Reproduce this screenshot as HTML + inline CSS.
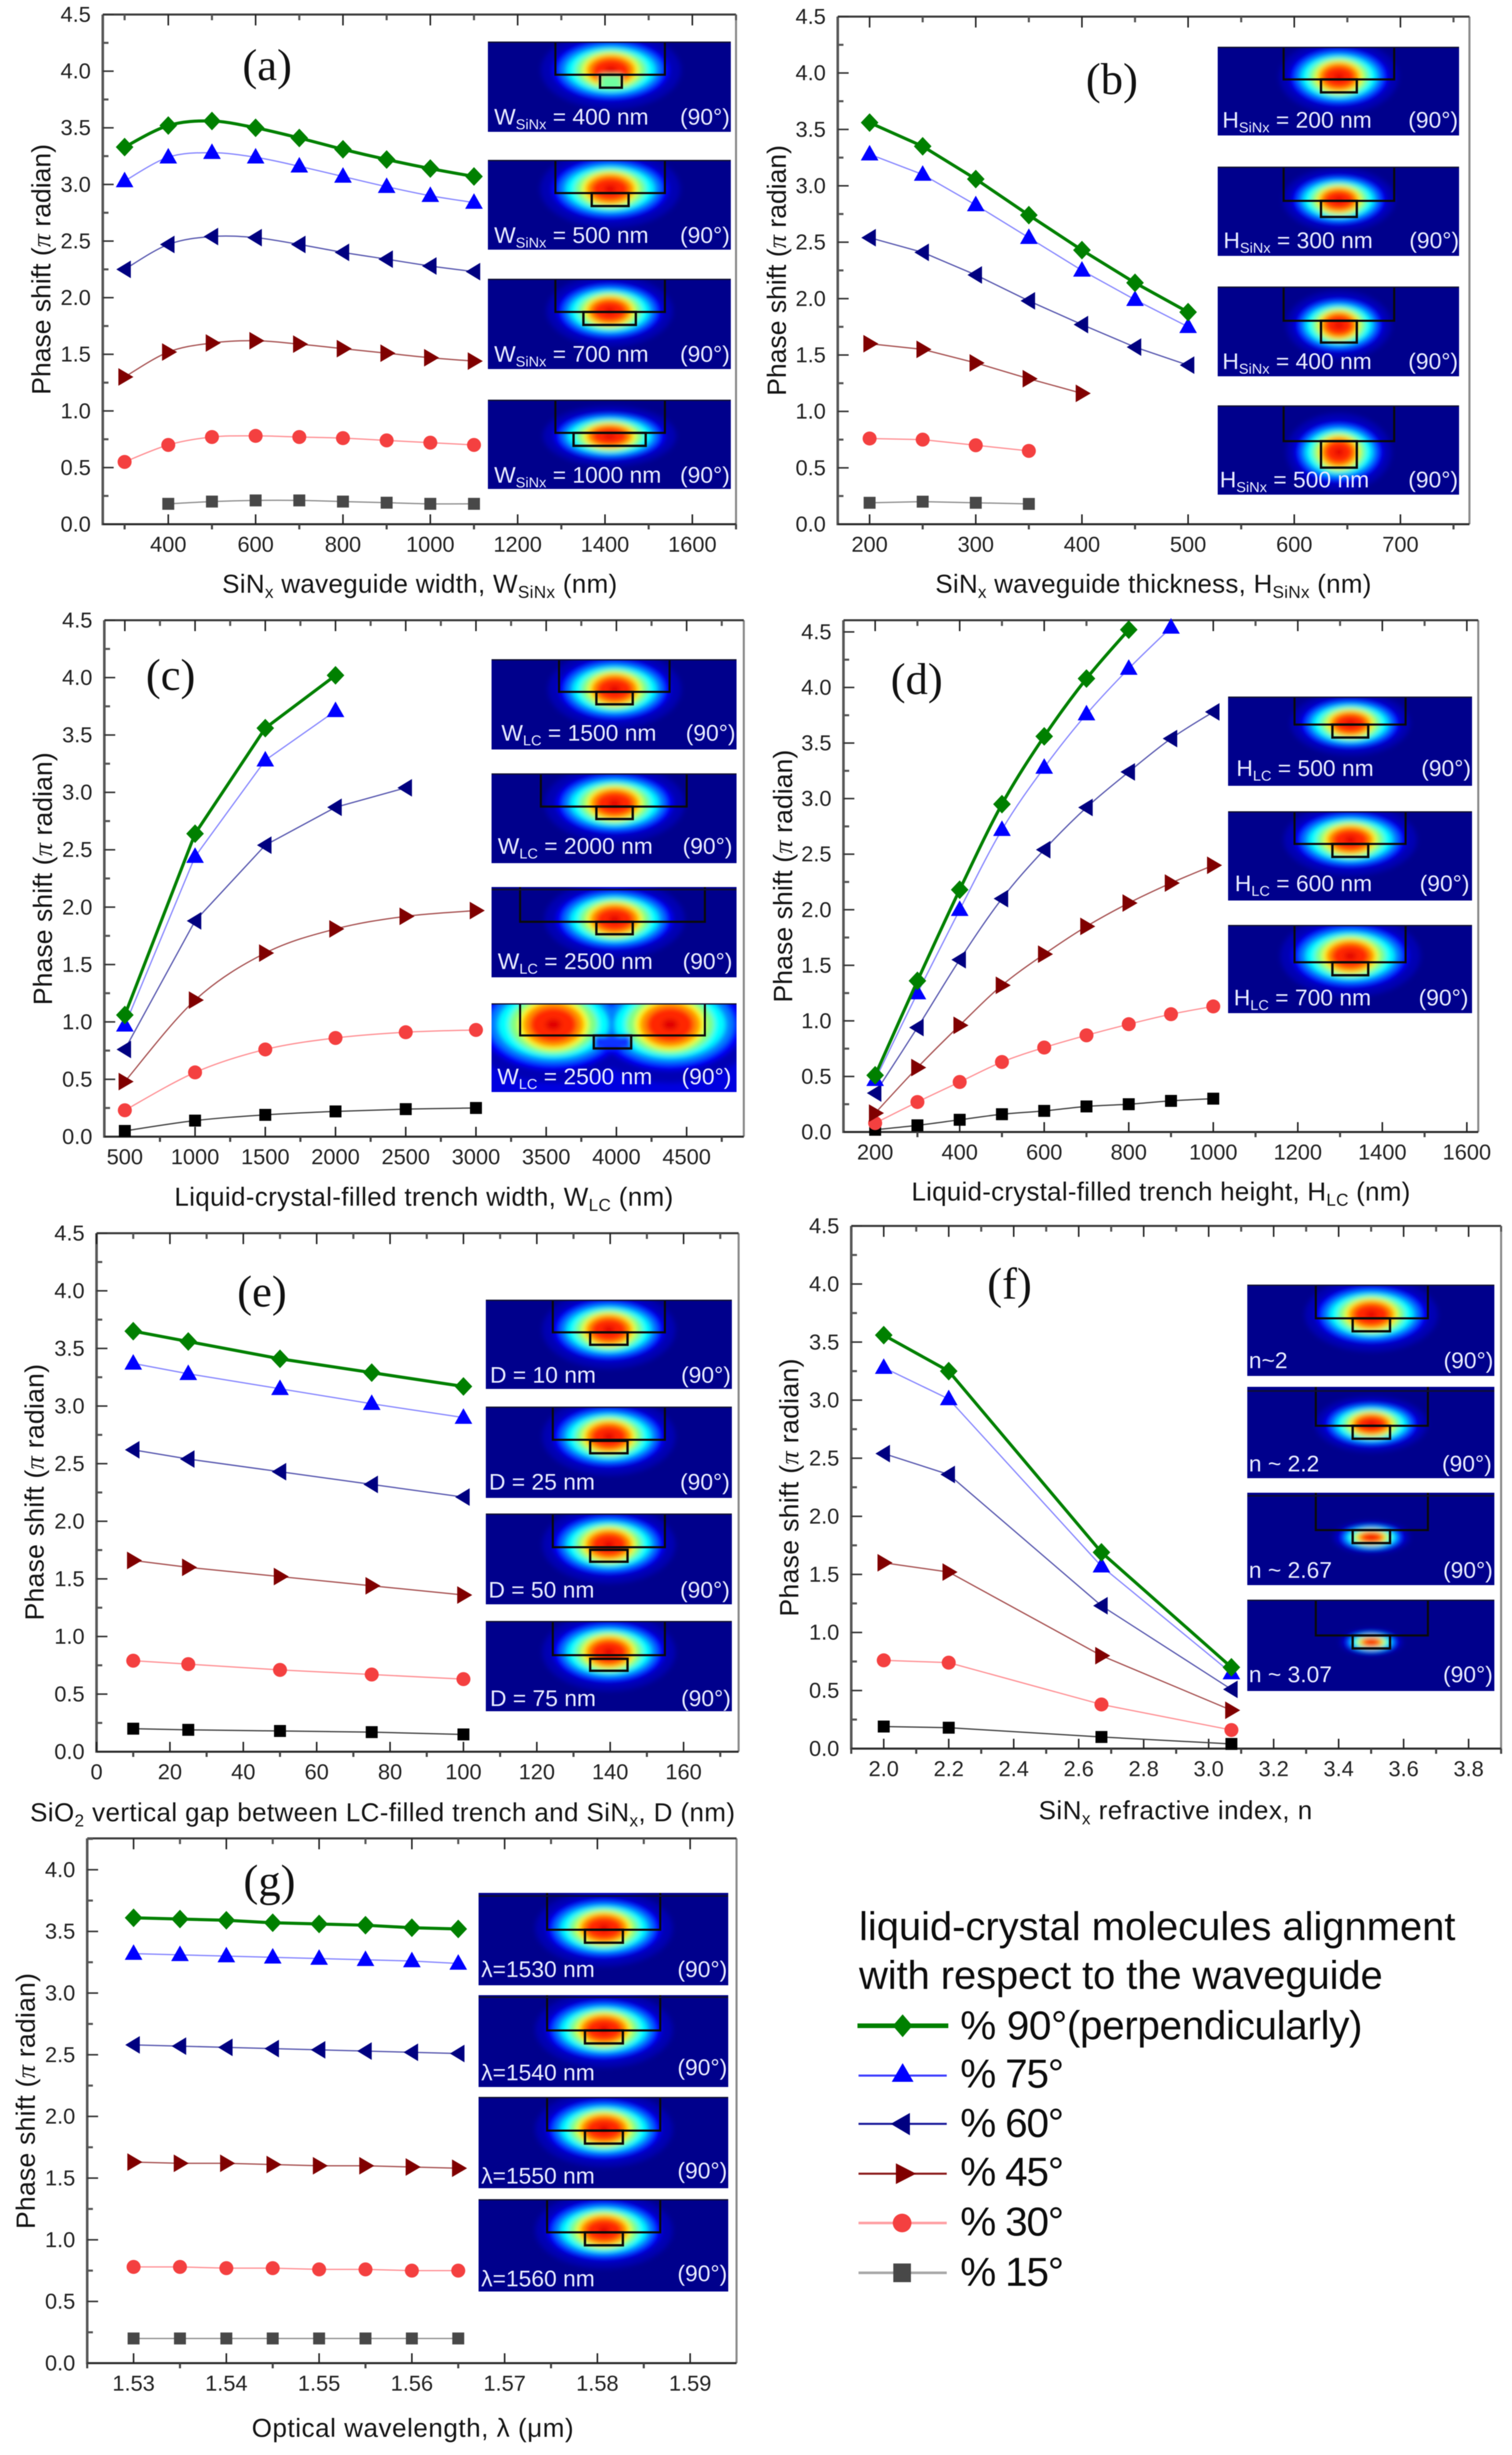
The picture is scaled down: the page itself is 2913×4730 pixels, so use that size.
<!DOCTYPE html>
<html lang="en">
<head>
<meta charset="utf-8">
<title>Phase shift versus design parameters</title>
<style>
html,body{margin:0;padding:0;background:#fff;width:2913px;height:4730px;overflow:hidden}
#figure{display:block;filter:blur(0.7px)}
text{font-family:"Liberation Sans",sans-serif}
.tick{font-size:42px;fill:#222}
.at{font-size:50px;fill:#141414}
.at tspan.s{font-size:33px}
.yt{font-size:51px;fill:#141414;text-anchor:middle}
.yt tspan{font-family:"Liberation Serif",serif;font-style:italic}
.pl{font-family:"Liberation Serif",serif;font-size:86px;fill:#111}
.il{font-size:44px;fill:#e8ebff}
.il tspan.s{font-size:28px}
.lg{font-size:77px;fill:#0c0c0c}
.le{font-size:78px;fill:#0c0c0c}
</style>
</head>
<body>
<svg id="figure" xmlns="http://www.w3.org/2000/svg" width="2913" height="4730" viewBox="0 0 2913 4730">
<defs>
<filter id="soft" x="-30%" y="-30%" width="160%" height="160%"><feGaussianBlur stdDeviation="5"/></filter>
</defs>
<rect width="2913" height="4730" fill="#fff"/>
<g id="axes"></g>
<g id="marks"></g>
<g id="fields"></g>

<g>
<text class="pl" x="467" y="154">(a)</text>
<text class="pl" x="2092" y="181">(b)</text>
<text class="pl" x="281" y="1329">(c)</text>
<text class="pl" x="1716" y="1337">(d)</text>
<text class="pl" x="457" y="2517">(e)</text>
<text class="pl" x="1902" y="2502">(f)</text>
<text class="pl" x="469" y="3652">(g)</text>
</g>

<g>
<text class="at" x="428" y="1142" textLength="761">SiN<tspan class="s" dy="10">x</tspan><tspan dy="-10"> waveguide width, W</tspan><tspan class="s" dy="10">SiNx</tspan><tspan dy="-10"> (nm)</tspan></text>
<text class="at" x="1802" y="1142" textLength="840">SiN<tspan class="s" dy="10">x</tspan><tspan dy="-10"> waveguide thickness, H</tspan><tspan class="s" dy="10">SiNx</tspan><tspan dy="-10"> (nm)</tspan></text>
<text class="at" x="336" y="2323" textLength="961">Liquid-crystal-filled trench width, W<tspan class="s" dy="10">LC</tspan><tspan dy="-10"> (nm)</tspan></text>
<text class="at" x="1756" y="2313" textLength="961">Liquid-crystal-filled trench height, H<tspan class="s" dy="10">LC</tspan><tspan dy="-10"> (nm)</tspan></text>
<text class="at" x="58" y="3509" textLength="1358">SiO<tspan class="s" dy="10">2</tspan><tspan dy="-10"> vertical gap between LC-filled trench and SiN</tspan><tspan class="s" dy="10">x</tspan><tspan dy="-10">, D (nm)</tspan></text>
<text class="at" x="2001" y="3505" textLength="527">SiN<tspan class="s" dy="10">x</tspan><tspan dy="-10"> refractive index, n</tspan></text>
<text class="at" x="485" y="4695" textLength="620">Optical wavelength, λ (μm)</text>
</g>

<g>
<text class="yt" transform="translate(97,519) rotate(-90)" textLength="483">Phase shift (<tspan>π</tspan> radian)</text>
<text class="yt" transform="translate(1514,521) rotate(-90)" textLength="483">Phase shift (<tspan>π</tspan> radian)</text>
<text class="yt" transform="translate(100,1693) rotate(-90)" textLength="487">Phase shift (<tspan>π</tspan> radian)</text>
<text class="yt" transform="translate(1526,1688) rotate(-90)" textLength="487">Phase shift (<tspan>π</tspan> radian)</text>
<text class="yt" transform="translate(84,2875) rotate(-90)" textLength="494">Phase shift (<tspan>π</tspan> radian)</text>
<text class="yt" transform="translate(1538,2866) rotate(-90)" textLength="497">Phase shift (<tspan>π</tspan> radian)</text>
<text class="yt" transform="translate(67,4048) rotate(-90)" textLength="493">Phase shift (<tspan>π</tspan> radian)</text>
</g>

<g>
<g>
<text class="il" x="952" y="240">W<tspan class="s" dy="9">SiNx</tspan><tspan dy="-9"> = 400 nm</tspan></text><text class="il" x="1406" y="240" text-anchor="end">(90°)</text>
<text class="il" x="952" y="468">W<tspan class="s" dy="9">SiNx</tspan><tspan dy="-9"> = 500 nm</tspan></text><text class="il" x="1406" y="468" text-anchor="end">(90°)</text>
<text class="il" x="952" y="697">W<tspan class="s" dy="9">SiNx</tspan><tspan dy="-9"> = 700 nm</tspan></text><text class="il" x="1406" y="697" text-anchor="end">(90°)</text>
<text class="il" x="952" y="930">W<tspan class="s" dy="9">SiNx</tspan><tspan dy="-9"> = 1000 nm</tspan></text><text class="il" x="1406" y="930" text-anchor="end">(90°)</text>
</g>
<g>
<text class="il" x="2355" y="246">H<tspan class="s" dy="9">SiNx</tspan><tspan dy="-9"> = 200 nm</tspan></text><text class="il" x="2809" y="246" text-anchor="end">(90°)</text>
<text class="il" x="2357" y="478">H<tspan class="s" dy="9">SiNx</tspan><tspan dy="-9"> = 300 nm</tspan></text><text class="il" x="2811" y="478" text-anchor="end">(90°)</text>
<text class="il" x="2355" y="711">H<tspan class="s" dy="9">SiNx</tspan><tspan dy="-9"> = 400 nm</tspan></text><text class="il" x="2809" y="711" text-anchor="end">(90°)</text>
<text class="il" x="2350" y="939">H<tspan class="s" dy="9">SiNx</tspan><tspan dy="-9"> = 500 nm</tspan></text><text class="il" x="2809" y="939" text-anchor="end">(90°)</text>
</g>
<g>
<text class="il" x="966" y="1427">W<tspan class="s" dy="9">LC</tspan><tspan dy="-9"> = 1500 nm</tspan></text><text class="il" x="1417" y="1427" text-anchor="end">(90°)</text>
<text class="il" x="959" y="1645">W<tspan class="s" dy="9">LC</tspan><tspan dy="-9"> = 2000 nm</tspan></text><text class="il" x="1411" y="1645" text-anchor="end">(90°)</text>
<text class="il" x="959" y="1867">W<tspan class="s" dy="9">LC</tspan><tspan dy="-9"> = 2500 nm</tspan></text><text class="il" x="1411" y="1867" text-anchor="end">(90°)</text>
<text class="il" x="958" y="2089">W<tspan class="s" dy="9">LC</tspan><tspan dy="-9"> = 2500 nm</tspan></text><text class="il" x="1409" y="2089" text-anchor="end">(90°)</text>
</g>
<g>
<text class="il" x="2382" y="1495">H<tspan class="s" dy="9">LC</tspan><tspan dy="-9"> = 500 nm</tspan></text><text class="il" x="2834" y="1495" text-anchor="end">(90°)</text>
<text class="il" x="2379" y="1717">H<tspan class="s" dy="9">LC</tspan><tspan dy="-9"> = 600 nm</tspan></text><text class="il" x="2831" y="1717" text-anchor="end">(90°)</text>
<text class="il" x="2377" y="1937">H<tspan class="s" dy="9">LC</tspan><tspan dy="-9"> = 700 nm</tspan></text><text class="il" x="2829" y="1937" text-anchor="end">(90°)</text>
</g>
<g>
<text class="il" x="944" y="2664">D = 10 nm</text><text class="il" x="1408" y="2664" text-anchor="end">(90°)</text>
<text class="il" x="942" y="2870">D = 25 nm</text><text class="il" x="1406" y="2870" text-anchor="end">(90°)</text>
<text class="il" x="941" y="3078">D = 50 nm</text><text class="il" x="1406" y="3078" text-anchor="end">(90°)</text>
<text class="il" x="944" y="3287">D = 75 nm</text><text class="il" x="1408" y="3287" text-anchor="end">(90°)</text>
</g>
<g>
<text class="il" x="2406" y="2636">n~2</text><text class="il" x="2877" y="2636" text-anchor="end">(90°)</text>
<text class="il" x="2406" y="2835">n ~ 2.2</text><text class="il" x="2874" y="2835" text-anchor="end">(90°)</text>
<text class="il" x="2406" y="3040">n ~ 2.67</text><text class="il" x="2876" y="3040" text-anchor="end">(90°)</text>
<text class="il" x="2406" y="3241">n ~ 3.07</text><text class="il" x="2876" y="3241" text-anchor="end">(90°)</text>
</g>
<g>
<text class="il" x="927" y="3809">λ=1530 nm</text><text class="il" x="1401" y="3809" text-anchor="end">(90°)</text>
<text class="il" x="927" y="4008">λ=1540 nm</text><text class="il" x="1401" y="3998" text-anchor="end">(90°)</text>
<text class="il" x="927" y="4207">λ=1550 nm</text><text class="il" x="1401" y="4197" text-anchor="end">(90°)</text>
<text class="il" x="927" y="4405">λ=1560 nm</text><text class="il" x="1401" y="4395" text-anchor="end">(90°)</text>
</g>
</g>

<g>
<text class="lg" x="1655" y="3738" textLength="1149">liquid-crystal molecules alignment</text>
<text class="lg" x="1655" y="3832" textLength="1009">with respect to the waveguide</text>
<g>
<line x1="1652" x2="1827" y1="3903" y2="3903" stroke="#008000" stroke-width="9"/>
<polygon points="1739,3881 1758,3903 1739,3925 1720,3903" fill="#008000"/>
<text class="le" x="1850" y="3929" textLength="775">% 90°(perpendicularly)</text>
</g>
<g>
<line x1="1654" x2="1824" y1="3999" y2="3999" stroke="#3c3cff" stroke-width="4"/>
<polygon points="1739,3975 1760,4011 1718,4011" fill="#0000ff"/>
<text class="le" x="1850" y="4022" textLength="200">% 75°</text>
</g>
<g>
<line x1="1654" x2="1824" y1="4092" y2="4092" stroke="#1c1c9c" stroke-width="4"/>
<polygon points="1716,4092 1753,4071 1753,4114" fill="#000080"/>
<text class="le" x="1850" y="4117" textLength="200">% 60°</text>
</g>
<g>
<line x1="1654" x2="1824" y1="4188" y2="4188" stroke="#8c1c1c" stroke-width="4"/>
<polygon points="1765,4188 1726,4168 1726,4208" fill="#800000"/>
<text class="le" x="1850" y="4211" textLength="200">% 45°</text>
</g>
<g>
<line x1="1654" x2="1824" y1="4283" y2="4283" stroke="#ffa0a4" stroke-width="5"/>
<circle cx="1738" cy="4283" r="18" fill="#f44040"/>
<text class="le" x="1850" y="4307" textLength="200">% 30°</text>
</g>
<g>
<line x1="1654" x2="1824" y1="4379" y2="4379" stroke="#a8a8a8" stroke-width="5"/>
<rect x="1721" y="4361" width="34" height="36" fill="#484848"/>
<text class="le" x="1850" y="4404" textLength="200">% 15°</text>
</g>
</g>
</svg>

<script>
// ---- Shared axis data ----
const phaseTicks = [0, 0.5, 1, 1.5, 2, 2.5, 3, 3.5, 4, 4.5];
const phaseTicksG = [0, 0.5, 1, 1.5, 2, 2.5, 3, 3.5, 4];
const phaseTickLabels = ['0.0', '0.5', '1.0', '1.5', '2.0', '2.5', '3.0', '3.5', '4.0', '4.5'];

// ---- Panel (a) SiNx waveguide width ----
const aX = [300, 400, 500, 600, 700, 800, 900, 1000, 1100];
const a90 = [3.33, 3.52, 3.56, 3.50, 3.41, 3.31, 3.22, 3.14, 3.07];
const a75 = [3.03, 3.24, 3.28, 3.24, 3.16, 3.07, 2.98, 2.90, 2.84];
const a60 = [2.25, 2.47, 2.54, 2.53, 2.47, 2.40, 2.34, 2.28, 2.23];
const a45 = [1.30, 1.52, 1.60, 1.62, 1.59, 1.55, 1.51, 1.47, 1.44];
const a30 = [0.55, 0.70, 0.77, 0.78, 0.77, 0.76, 0.74, 0.72, 0.70];
const a15 = [null, 0.18, 0.20, 0.21, 0.21, 0.20, 0.19, 0.18, 0.18];
const aXTicks = [400, 600, 800, 1000, 1200, 1400, 1600];

// ---- Panel (b) SiNx waveguide thickness ----
const bX = [200, 250, 300, 350, 400, 450, 500];
const b90 = [3.56, 3.35, 3.06, 2.74, 2.43, 2.14, 1.88];
const b75 = [3.28, 3.10, 2.83, 2.54, 2.25, 1.99, 1.75];
const b60 = [2.54, 2.41, 2.21, 1.98, 1.77, 1.57, 1.41];
const b45 = [1.60, 1.55, 1.43, 1.29, 1.16, null, null];
const b30 = [0.76, 0.75, 0.70, 0.65, null, null, null];
const b15 = [0.19, 0.20, 0.19, 0.18, null, null, null];
const bXTicks = [200, 300, 400, 500, 600, 700];

// ---- Panel (c) trench width ----
const cX = [500, 1000, 1500, 2000, 2500, 3000];
const c90 = [1.06, 2.64, 3.56, 4.02, null, null];
const c75 = [0.97, 2.44, 3.28, 3.71, null, null];
const c60 = [0.76, 1.88, 2.54, 2.87, 3.04, null];
const c45 = [0.48, 1.19, 1.60, 1.81, 1.92, 1.97];
const c30 = [0.23, 0.56, 0.76, 0.86, 0.91, 0.93];
const c15 = [0.05, 0.14, 0.19, 0.22, 0.24, 0.25];
const cXTicks = [500, 1000, 1500, 2000, 2500, 3000, 3500, 4000, 4500];

// ---- Panel (d) trench height ----
const dX = [200, 300, 400, 500, 600, 700, 800, 900, 1000];
const d90 = [0.51, 1.36, 2.18, 2.95, 3.56, 4.08, 4.52, null, null];
const d75 = [0.47, 1.25, 2.00, 2.72, 3.28, 3.76, 4.17, 4.54, null];
const d60 = [0.35, 0.94, 1.55, 2.10, 2.54, 2.92, 3.24, 3.54, 3.78];
const d45 = [0.17, 0.58, 0.96, 1.32, 1.60, 1.85, 2.06, 2.24, 2.40];
const d30 = [0.08, 0.27, 0.45, 0.63, 0.76, 0.87, 0.97, 1.06, 1.13];
const d15 = [0.02, 0.06, 0.11, 0.16, 0.19, 0.23, 0.25, 0.28, 0.30];
const dXTicks = [200, 400, 600, 800, 1000, 1200, 1400, 1600];

// ---- Panel (e) vertical gap ----
const eX = [10, 25, 50, 75, 100];
const e90 = [3.65, 3.56, 3.41, 3.29, 3.17];
const e75 = [3.37, 3.28, 3.15, 3.02, 2.90];
const e60 = [2.62, 2.54, 2.43, 2.32, 2.21];
const e45 = [1.66, 1.60, 1.52, 1.44, 1.36];
const e30 = [0.79, 0.76, 0.71, 0.67, 0.63];
const e15 = [0.20, 0.19, 0.18, 0.17, 0.15];
const eXTicks = [0, 20, 40, 60, 80, 100, 120, 140, 160];

// ---- Panel (f) refractive index ----
const fX = [2.0, 2.2, 2.67, 3.07];
const f90 = [3.56, 3.25, 1.69, 0.70];
const f75 = [3.28, 3.01, 1.57, 0.65];
const f60 = [2.54, 2.36, 1.23, 0.51];
const f45 = [1.60, 1.52, 0.80, 0.33];
const f30 = [0.76, 0.74, 0.38, 0.16];
const f15 = [0.19, 0.18, 0.10, 0.04];
const fXTicks = [2.0, 2.2, 2.4, 2.6, 2.8, 3.0, 3.2, 3.4, 3.6, 3.8];

// ---- Panel (g) wavelength ----
const gX = [1.53, 1.535, 1.54, 1.545, 1.55, 1.555, 1.56, 1.565];
const g90 = [3.61, 3.60, 3.59, 3.57, 3.56, 3.55, 3.53, 3.52];
const g75 = [3.32, 3.31, 3.30, 3.29, 3.28, 3.27, 3.26, 3.24];
const g60 = [2.58, 2.57, 2.56, 2.55, 2.54, 2.53, 2.52, 2.51];
const g45 = [1.63, 1.62, 1.62, 1.61, 1.60, 1.60, 1.59, 1.58];
const g30 = [0.78, 0.78, 0.77, 0.77, 0.76, 0.76, 0.75, 0.75];
const g15 = [0.20, 0.20, 0.20, 0.20, 0.20, 0.20, 0.20, 0.20];
const gXTicks = [1.53, 1.54, 1.55, 1.56, 1.57, 1.58, 1.59];

// ---- Layout of each panel: frame box + axis ranges ----
// smoothCount = how many of the series (starting from 15 deg) use a spline instead of straight segments
const panelConfigs = [
  {id:'a', left:198, right:1418, top:28, bottom:1010, xMin:250, xMax:1700, yMax:4.5, minorStep:100, dec:0, smoothCount:6, dark:false, x:aX, xTicks:aXTicks, yTicks:phaseTicks, s:[a15,a30,a45,a60,a75,a90]},
  {id:'b', left:1614, right:2831, top:32, bottom:1010, xMin:170, xMax:765, yMax:4.5, minorStep:50, dec:0, smoothCount:0, dark:false, x:bX, xTicks:bXTicks, yTicks:phaseTicks, s:[b15,b30,b45,b60,b75,b90]},
  {id:'c', left:201, right:1433, top:1195, bottom:2190, xMin:354, xMax:4907, yMax:4.5, minorStep:250, dec:0, smoothCount:3, dark:true, x:cX, xTicks:cXTicks, yTicks:phaseTicks, s:[c15,c30,c45,c60,c75,c90]},
  {id:'d', left:1625, right:2848, top:1195, bottom:2181, xMin:125, xMax:1627, yMax:4.605, minorStep:100, dec:0, smoothCount:6, dark:true, x:dX, xTicks:dXTicks, yTicks:phaseTicks, s:[d15,d30,d45,d60,d75,d90]},
  {id:'e', left:186, right:1423, top:2376, bottom:3375, xMin:0, xMax:175, yMax:4.5, minorStep:10, dec:0, smoothCount:0, dark:true, x:eX, xTicks:eXTicks, yTicks:phaseTicks, s:[e15,e30,e45,e60,e75,e90]},
  {id:'f', left:1640, right:2892, top:2362, bottom:3369, xMin:1.9, xMax:3.9, yMax:4.5, minorStep:0.1, dec:1, smoothCount:0, dark:true, x:fX, xTicks:fXTicks, yTicks:phaseTicks, s:[f15,f30,f45,f60,f75,f90]},
  {id:'g', left:168, right:1419, top:3542, bottom:4553, xMin:1.525, xMax:1.595, yMax:4.254, minorStep:0.005, dec:2, smoothCount:0, dark:false, x:gX, xTicks:gXTicks, yTicks:phaseTicksG, s:[g15,g30,g45,g60,g75,g90]}
];

const seriesLook = [
  {name:'15deg', fill:'#484848', line:'#909090', width:2.5, marker:'square'},
  {name:'30deg', fill:'#f44040', line:'#ff9296', width:2.5, marker:'circle'},
  {name:'45deg', fill:'#800000', line:'#a85454', width:2.5, marker:'right'},
  {name:'60deg', fill:'#000080', line:'#5a5ab0', width:2.5, marker:'left'},
  {name:'75deg', fill:'#0000ff', line:'#8888ff', width:2.5, marker:'up'},
  {name:'90deg', fill:'#008000', line:'#008000', width:6, marker:'diamond'}
];

const NS = 'http://www.w3.org/2000/svg';
function make(parent, tag, attrs) {
  const node = document.createElementNS(NS, tag);
  for (const k in attrs) node.setAttribute(k, attrs[k]);
  parent.appendChild(node);
  return node;
}

function drawMarker(parent, kind, x, y, color, seriesName) {
  let m;
  if (kind === 'diamond') m = make(parent, 'polygon', {points:[x,y-18,x+17,y,x,y+18,x-17,y].join(' '), fill:color});
  else if (kind === 'up') m = make(parent, 'polygon', {points:[x,y-18,x+17,y+12,x-17,y+12].join(' '), fill:color});
  else if (kind === 'left') m = make(parent, 'polygon', {points:[x-16,y,x+12,y-17,x+12,y+17].join(' '), fill:color});
  else if (kind === 'right') m = make(parent, 'polygon', {points:[x+17,y,x-12,y-17,x-12,y+17].join(' '), fill:color});
  else if (kind === 'circle') m = make(parent, 'circle', {cx:x, cy:y, r:13.5, fill:color});
  else m = make(parent, 'rect', {x:x-11.5, y:y-11.5, width:23, height:23, fill:color});
  
  
}

function linePath(pts, smooth) {
  let d = 'M' + pts[0][0] + ' ' + pts[0][1];
  for (let i = 1; i < pts.length; i++) {
    if (!smooth) { d += 'L' + pts[i][0] + ' ' + pts[i][1]; continue; }
    const p0 = pts[Math.max(0, i - 2)], p1 = pts[i - 1], p2 = pts[i], p3 = pts[Math.min(pts.length - 1, i + 1)];
    d += 'C' + (p1[0] + (p2[0] - p0[0]) / 6) + ' ' + (p1[1] + (p2[1] - p0[1]) / 6) + ' ' +
         (p2[0] - (p3[0] - p1[0]) / 6) + ' ' + (p2[1] - (p3[1] - p1[1]) / 6) + ' ' + p2[0] + ' ' + p2[1];
  }
  return d;
}

function drawPanel(p) {
  const xScale = v => p.left + (v - p.xMin) / (p.xMax - p.xMin) * (p.right - p.left);
  const yScale = v => p.bottom - v / p.yMax * (p.bottom - p.top);
  const axes = make(document.getElementById('axes'), 'g', {});
  
  

  const box = [
    ['frame-right', p.right, p.top, p.right, p.bottom, '#8a8a8a', 4],
    ['frame-left', p.left, p.top, p.left, p.bottom + 2, '#585858', 5],
    ['frame-top', p.left, p.top, p.right, p.top, '#3c3c3c', 4],
    ['frame-bottom', p.left, p.bottom, p.right, p.bottom, '#2c2c2c', 4]
  ];
  box.forEach(b => {
    const ln = make(axes, 'line', {x1:b[1], y1:b[2], x2:b[3], y2:b[4], stroke:b[5], 'stroke-width':b[6]});
    
    
  });

  // x ticks: majors come from the tick array, minors sit half way between them
  const nMinor = Math.round((p.xMax - p.xMin) / p.minorStep) + 2;
  const majorSet = p.xTicks.map(v => v.toFixed(4));
  const start = p.xTicks[0] - p.minorStep * Math.floor((p.xTicks[0] - p.xMin) / p.minorStep);
  for (let i = 0; i < nMinor; i++) {
    const v = start + i * p.minorStep;
    if (v > p.xMax) break;
    if (majorSet.includes(v.toFixed(4))) continue;
    const x = xScale(v);
    const b1 = make(axes, 'line', {x1:x, x2:x, y1:p.bottom, y2:p.bottom + 10, stroke:'#444', 'stroke-width':4});
    
    
    const t1 = make(axes, 'line', {x1:x, x2:x, y1:p.top, y2:p.top + 11, stroke:'#555', 'stroke-width':4});
    
    
  }
  p.xTicks.forEach(v => {
    const x = xScale(v);
    const b2 = make(axes, 'line', {x1:x, x2:x, y1:p.bottom, y2:p.bottom - 19, stroke:'#222', 'stroke-width':3});
    
    
    const t2 = make(axes, 'line', {x1:x, x2:x, y1:p.top, y2:p.top + 21, stroke:'#222', 'stroke-width':3});
    
    
    const lab = make(axes, 'text', {x:x, y:p.bottom + 53, 'text-anchor':'middle', class:'tick'});
    lab.textContent = v.toFixed(p.dec);
    
    
  });

  p.yTicks.forEach((v, i) => {
    const y = yScale(v);
    if (i > 0) {
      const lnM = make(axes, 'line', {x1:p.left, x2:p.left + 21, y1:y, y2:y, stroke:'#333', 'stroke-width':3});
      
      
    }
    const lab = make(axes, 'text', {x:p.left - 23, y:y + 14, 'text-anchor':'end', class:'tick'});
    lab.textContent = phaseTickLabels[i];
    
    
    const mid = v + 0.25;
    if (mid < p.yMax) {
      const ym = yScale(mid);
      const lnm = make(axes, 'line', {x1:p.left, x2:p.left + 11, y1:ym, y2:ym, stroke:'#555', 'stroke-width':4});
      
      
    }
  });

  const marks = make(document.getElementById('marks'), 'g', {});
  
  
  p.s.forEach((vals, si) => {
    const look = seriesLook[si];
    const fill = (si === 0 && p.dark) ? '#000000' : look.fill;
    const lineCol = (si === 0 && p.dark) ? '#444444' : look.line;
    const pts = [];
    vals.forEach((v, i) => { if (v !== null) pts.push([xScale(p.x[i]), yScale(v)]); });
    const group = make(marks, 'g', {});
    
    
    const path = make(group, 'path', {d:linePath(pts, si < p.smoothCount), fill:'none', stroke:lineCol, 'stroke-width':look.width});
    
    
    pts.forEach(pt => drawMarker(group, look.marker, pt[0], pt[1], fill, look.name));
  });
}
panelConfigs.forEach(drawPanel);

// ---- Mode-profile inset pictures (decorative layout, jet colour contours) ----
const fieldContours = [
  ['#0000b4', 135, 75], ['#0000ff', 112, 58], ['#0080ff', 98, 50], ['#00ffff', 85, 43],
  ['#80ff80', 68, 38], ['#ffff00', 54, 33], ['#ff9000', 47, 29], ['#ff2800', 36, 22], ['#e00000', 12, 7]
];
// x, y, w, h, trench x offset, trench w, trench bottom, guide x offset, guide w, guide top, guide depth, field cy, scale x, scale y, guide tint, top line
const insetBoxes = [
  [940,80,468,174, 130,211,64, 216,42,64,25, 55,1,1,'#70ffa0',0],
  [940,308,468,173, 130,211,64, 200,71,64,25, 56,1,1,null,0],
  [940,537,468,174, 130,211,64, 184,101,64,25, 62,0.9,0.92,null,0],
  [940,770,468,172, 130,211,64, 165,139,64,25, 70,0.95,0.78,null,0],
  [2346,90,465,171, 127,213,63, 199,69,63,25, 58,0.85,0.95,null,0],
  [2346,321,465,172, 127,213,66, 199,69,66,31, 64,0.8,0.82,null,0],
  [2346,552,465,173, 127,213,66, 199,69,66,42, 74,0.75,0.88,null,0],
  [2346,781,465,172, 127,213,69, 199,69,69,51, 90,0.75,1,null,0],
  [947,1270,472,174, 130,213,63, 202,70,63,24, 58,0.95,1,null,0],
  [947,1490,472,173, 95,281,64, 202,70,64,24, 58,1,1,null,0],
  [947,1709,472,174, 55,356,67, 202,70,67,24, 62,1,1,null,5],
  [947,1933,472,171, 55,356,62, 197,72,62,25, 0,0,0,'#1030ff',0],
  [2366,1342,470,172, 128,214,54, 201,69,54,25, 52,0.85,0.82,null,0],
  [2366,1563,470,172, 128,214,63, 201,69,63,25, 55,0.95,0.92,null,0],
  [2366,1782,470,170, 128,214,72, 201,69,72,25, 60,1,1.05,null,0],
  [936,2504,474,172, 129,216,63, 201,72,63,24, 58,0.95,1,null,0],
  [936,2710,474,176, 129,216,64, 201,72,66,24, 58,0.95,1,null,0],
  [936,2916,474,175, 129,216,65, 201,72,70,23, 60,0.95,1,null,0],
  [936,3123,474,174, 129,216,66, 201,72,73,23, 60,0.95,1,null,0],
  [2403,2475,476,176, 132,216,65, 203,72,65,25, 58,0.95,0.95,null,0],
  [2403,2672,476,176, 132,216,75, 203,72,75,25, 72,0.8,0.72,null,8],
  [2403,2876,476,178, 132,216,72, 203,72,72,25, 86,0.55,0.42,null,6],
  [2403,3082,476,176, 132,216,69, 203,72,69,25, 82,0.45,0.34,null,0],
  [922,3647,481,178, 132,218,71, 205,73,71,25, 68,0.98,0.98,null,6],
  [922,3844,481,177, 132,218,68, 205,73,68,25, 66,0.98,0.98,null,4],
  [922,4040,481,176, 132,218,65, 205,73,65,25, 62,0.98,0.98,null,0],
  [922,4237,481,178, 132,218,64, 205,73,64,25, 60,0.98,0.98,null,0]
];
const fieldsLayer = document.getElementById('fields');
insetBoxes.forEach((b, n) => {
  const [x, y, w, h, tx, tw, tb, wx, ww, wt, wd, cy, sx, sy, tint, topLine] = b;
  const g = make(fieldsLayer, 'g', {});
  
  
  const clip = make(g, 'clipPath', {id:'clip' + n});
  make(clip, 'rect', {x:x, y:y, width:w, height:h});
  const isTwoLobe = sx === 0;
  const bg = make(g, 'rect', {x:x, y:y, width:w, height:h, fill:isTwoLobe ? '#0000e0' : '#00008c'});
  
  
  const clipped = make(g, 'g', {'clip-path':'url(#clip' + n + ')'});
  const blurred = make(clipped, 'g', {filter:'url(#soft)'});
  const cxFine = x + wx + ww / 2;
  if (isTwoLobe) {
    // paint level by level so neighbouring lobes stay separated by the lower contours
    fieldContours.forEach(k => {
      [x + 119, x + 344].forEach(c => {
        make(blurred, 'ellipse', {cx:c, cy:y + 41, rx:k[1] * 1.25, ry:k[2] * 1.5, fill:k[0]});
      });
    });
    make(blurred, 'rect', {x:x + wx, y:y + wt, width:ww, height:wd, fill:tint});
  } else {
    fieldContours.forEach(k => make(blurred, 'ellipse', {cx:cxFine, cy:y + cy, rx:k[1] * sx, ry:k[2] * sy, fill:k[0]}));
    if (tint) make(blurred, 'rect', {x:x + wx, y:y + wt, width:ww, height:wd, fill:tint});
  }
  const trench = make(clipped, 'rect', {x:x + tx, y:y - 4, width:tw, height:tb + 4, fill:'none', stroke:'#0a0a0a', 'stroke-width':4});
  
  
  const guide = make(clipped, 'rect', {x:x + wx, y:y + wt, width:ww, height:wd, fill:'none', stroke:'#0a0a0a', 'stroke-width':4.5});
  
  
  const top = make(clipped, 'line', {x1:x, x2:x + w, y1:y + Math.max(topLine, 1), y2:y + Math.max(topLine, 1), stroke:'#101030', 'stroke-width':3});
  
  
});
</script>
</body>
</html>
